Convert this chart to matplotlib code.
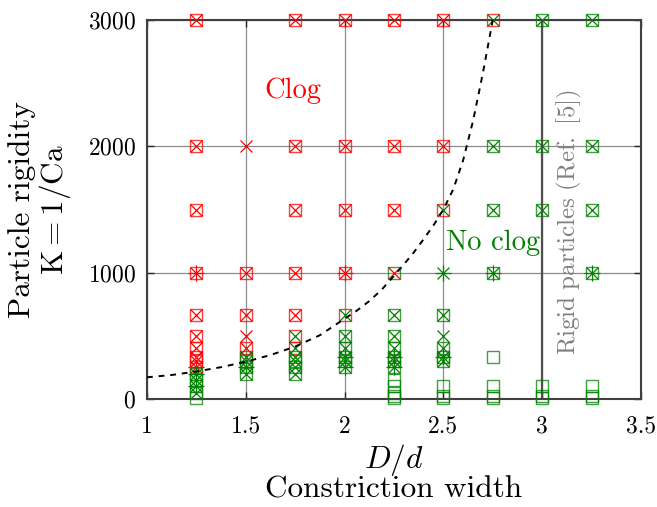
import numpy as np
import matplotlib
matplotlib.use("Agg")
import matplotlib.pyplot as plt

plt.rcParams["font.family"] = ["cmr10", "DejaVu Serif"]
plt.rcParams["mathtext.fontset"] = "cm"
plt.rcParams["axes.formatter.use_mathtext"] = True

RED = "#ff0000"
GREEN = "#008000"

# squares: clog (red)
sq_clog_x = [1.25] * 10 + [1.5] * 3 + [1.75] * 7 + [2.0] * 5 + [2.25] * 3 + [2.5] * 3 + [2.75]
sq_clog_k = [3000, 2000, 1500, 1000, 667, 500, 400, 333, 300, 250,
             1000, 667, 400,
             3000, 2000, 1500, 1000, 667, 500, 400,
             3000, 2000, 1500, 1000, 667,
             3000, 2000, 1500,
             3000, 2000, 1500,
             3000]

# squares: no clog (green)
sq_ok_x = ([1.25] * 5 + [1.5] * 4 + [1.75] * 4 + [2.0] * 5 + [2.25] * 12 + [2.5] * 7
           + [2.75] * 7 + [3.0] * 6 + [3.25] * 7)
sq_ok_k = [200, 150, 100, 50, 10,
           333, 300, 250, 200,
           333, 300, 250, 200,
           500, 400, 333, 300, 250,
           1000, 667, 500, 400, 333, 300, 250, 150, 100, 50, 20, 10,
           667, 400, 333, 300, 100, 20, 10,
           2000, 1500, 1000, 333, 100, 20, 10,
           3000, 2000, 1500, 100, 20, 10,
           3000, 2000, 1500, 1000, 100, 20, 10]

# crosses: clog (red)
x_clog_x = [1.25] * 10 + [1.5] * 5 + [1.75] * 5 + [2.0] * 4 + [2.25] * 4 + [2.5] * 2
x_clog_k = [3000, 2000, 1500, 1000, 667, 500, 400, 333, 300, 250,
            2000, 1000, 667, 500, 400,
            3000, 2000, 1500, 1000, 667,
            3000, 2000, 1500, 1000,
            3000, 2000, 1500, 1000,
            3000, 2000]

# crosses: no clog (green)
x_ok_x = ([1.25] * 4 + [1.5] * 4 + [1.75] * 6 + [2.0] * 6 + [2.25] * 6 + [2.5] * 7
          + [2.75] * 4 + [3.0] * 3 + [3.25] * 4)
x_ok_k = [200, 150, 100, 50,
          333, 300, 250, 200,
          500, 400, 333, 300, 250, 200,
          667, 500, 400, 333, 300, 250,
          667, 500, 400, 333, 300, 250,
          1500, 1000, 667, 500, 400, 333, 300,
          3000, 2000, 1500, 1000,
          3000, 2000, 1500,
          3000, 2000, 1500, 1000]

# plus markers
p_clog_x = [1.25, 1.25, 2.0]
p_clog_k = [1000, 250, 1000]
p_ok_x = [1.25, 1.25, 1.5, 2.0, 2.0, 2.25, 2.25, 2.5, 2.5, 2.75, 3.25]
p_ok_k = [200, 100, 250, 333, 250, 333, 250, 1000, 333, 1000, 1000]

# dashed boundary
curve_x = [1.0, 1.125, 1.25, 1.375, 1.5, 1.625, 1.75, 1.875, 2.0, 2.0625, 2.125,
           2.1875, 2.25, 2.3, 2.35, 2.4, 2.45, 2.5, 2.55, 2.6, 2.65, 2.7, 2.75]
curve_k = [172, 190, 218, 252, 295, 348, 415, 505, 635, 700, 775,
           865, 975, 1065, 1160, 1265, 1375, 1500, 1660, 1890, 2200, 2580, 3000]

fig = plt.figure(figsize=(6.57, 5.07), dpi=100)
ax = fig.add_axes([0.2237, 0.213, 0.7519, 0.7475])

ax.grid(True, color="#8c8c8c", linewidth=0.9)
ax.set_axisbelow(True)

ax.plot([3, 3], [0, 3000], color="#505050", linewidth=1.6, zorder=2)

ms = 8.5
ax.plot(sq_clog_x, sq_clog_k, "s", mfc="none", mec=RED, ms=ms, mew=1.0, alpha=0.75,
        linestyle="none", clip_on=False, zorder=3)
ax.plot(sq_ok_x, sq_ok_k, "s", mfc="none", mec=GREEN, ms=ms, mew=1.0, alpha=0.75,
        linestyle="none", clip_on=False, zorder=3)
ax.plot(x_clog_x, x_clog_k, "x", color=RED, ms=ms, mew=0.9,
        linestyle="none", clip_on=False, zorder=4)
ax.plot(x_ok_x, x_ok_k, "x", color=GREEN, ms=ms, mew=0.9,
        linestyle="none", clip_on=False, zorder=4)
ax.plot(p_clog_x, p_clog_k, "+", color=RED, ms=11, mew=0.9,
        linestyle="none", clip_on=False, zorder=4)
ax.plot(p_ok_x, p_ok_k, "+", color=GREEN, ms=11, mew=0.9,
        linestyle="none", clip_on=False, zorder=4)

ax.plot(curve_x, curve_k, color="black", linestyle=(0, (3, 3)), linewidth=1.4, zorder=5)

ax.text(1.74, 2440, "Clog", color=RED, fontsize=20.5, ha="center", va="center")
ax.text(2.75, 1235, "No clog", color=GREEN, fontsize=20.5, ha="center", va="center")
ax.text(3.14, 1400, r"$\mathrm{Rigid\ particles\ (Ref.\ [5])}$", color="#808080",
        fontsize=18, rotation=90, ha="center", va="center")

ax.set_xlim(1, 3.5)
ax.set_ylim(0, 3000)
ax.set_xticks([1, 1.5, 2, 2.5, 3, 3.5])
ax.set_xticklabels(["1", "1.5", "2", "2.5", "3", "3.5"])
ax.set_yticks([0, 1000, 2000, 3000])
ax.tick_params(direction="in", labelsize=17, length=5, width=1.0, color="#262626",
               top=True, right=True)
ax.tick_params(axis="x", pad=12)
ax.tick_params(axis="y", pad=8)
for s in ax.spines.values():
    s.set_color("#404040")
    s.set_linewidth(1.5)

# axis labels, two lines each
fig.text(0.5997, 1 - 460 / 507, "$D/d$", fontsize=22.5, ha="center", va="center")
fig.text(0.5997, 1 - 490 / 507, "Constriction width", fontsize=22.5,
         ha="center", va="center")
fig.text(22 / 657, 0.5868, "Particle rigidity", fontsize=22.5, rotation=90,
         ha="center", va="center")
fig.text(55 / 657, 0.5868, r"$\mathrm{K} = 1/\mathrm{Ca}$", fontsize=22.5, rotation=90,
         ha="center", va="center")

fig.savefig("out.png", dpi=100)
